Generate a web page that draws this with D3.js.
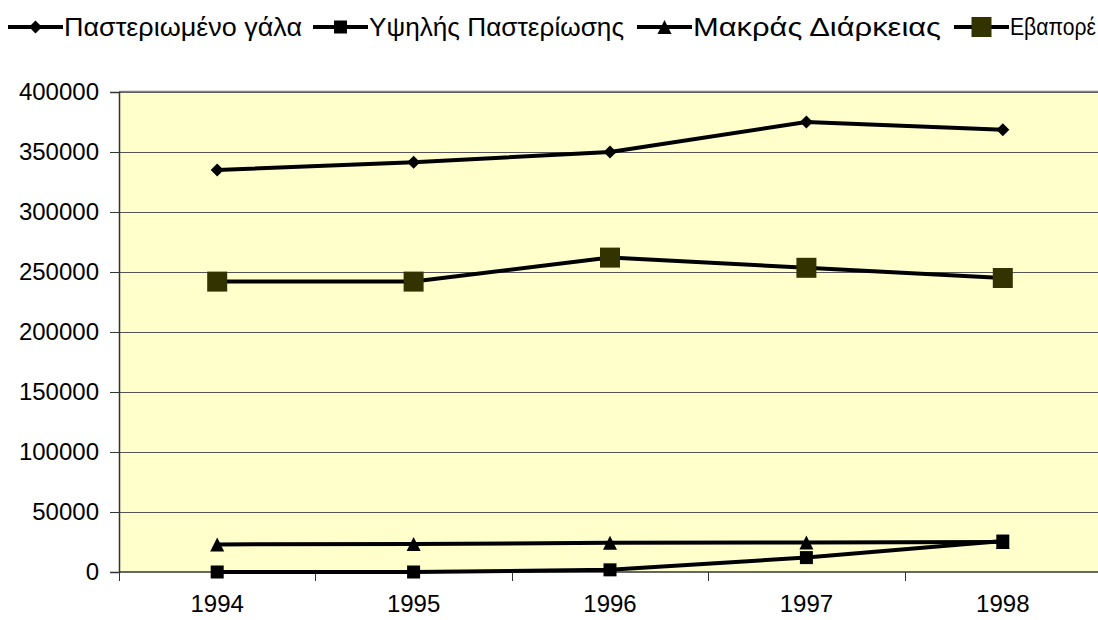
<!DOCTYPE html>
<html><head><meta charset="utf-8">
<script src="https://cdn.jsdelivr.net/npm/d3@7"></script>
<style>body{margin:0;background:#fff;}svg{display:block;font-family:"Liberation Sans",Arial,sans-serif;}</style>
</head><body>
<svg id="c" width="1098" height="620"></svg>
<script>
const categories = ["1994","1995","1996","1997","1998"];
const seriesNames = ["Παστεριωμένο γάλα","Υψηλής Παστερίωσης","Μακράς Διάρκειας","Εβαπορέ"];
const pasteurized = [335000,341500,350000,375000,368500];
const highPast = [0,0,1800,12000,25800];
const longLife = [23000,23300,24400,24600,25000];
const evapore = [242000,242000,262000,253500,245000];
const yTicks = [0,50000,100000,150000,200000,250000,300000,350000,400000];

const series = [
  {name:seriesNames[0], values:pasteurized, marker:"diamond", fill:"#000", size:6.5},
  {name:seriesNames[1], values:highPast, marker:"square", fill:"#000", size:6.5},
  {name:seriesNames[2], values:longLife, marker:"triangle", fill:"#000", size:7},
  {name:seriesNames[3], values:evapore, marker:"square", fill:"#333300", size:10}
];

const svg = d3.select("#c");
const L=119, R=1101, T=92, B=572;
const x = d3.scaleBand().domain(categories).range([L,R]);
const y = d3.scaleLinear().domain([0,400000]).range([B,T]);

svg.append("rect").attr("x",L).attr("y",T).attr("width",R-L).attr("height",B-T).attr("fill","#FFFFCC");
svg.append("g").selectAll("line").data(yTicks.filter(d=>d>0)).join("line")
  .attr("x1",L).attr("x2",R).attr("y1",d=>Math.round(y(d))+0.5).attr("y2",d=>Math.round(y(d))+0.5)
  .attr("stroke","#555").attr("stroke-width",1);
svg.append("line").attr("x1",L).attr("x2",R).attr("y1",T-0.5).attr("y2",T-0.5).attr("stroke","#808080").attr("stroke-width",1.5);

const yAxis = d3.axisLeft(y).tickValues(yTicks).tickSize(9).tickPadding(11).tickFormat(d3.format("d"));
const gy = svg.append("g").attr("transform",`translate(${L},0)`).call(yAxis);
gy.select(".domain").attr("stroke","#333").attr("stroke-width",1.5);
gy.selectAll(".tick line").attr("stroke","#333");
gy.selectAll("text").attr("font-size",24).attr("fill","#000").attr("font-family","Liberation Sans, Arial, sans-serif");

const gx = svg.append("g").attr("transform",`translate(0,${B})`);
gx.append("line").attr("x1",L).attr("x2",R).attr("y1",0).attr("y2",0).attr("stroke","#333").attr("stroke-width",1.5);
const bounds = categories.map(c=>x(c)).concat([x(categories[categories.length-1])+x.bandwidth()]);
gx.selectAll("line.t").data(bounds).join("line").attr("class","t")
  .attr("x1",d=>Math.round(d)+0.5).attr("x2",d=>Math.round(d)+0.5).attr("y1",0).attr("y2",9).attr("stroke","#333");
gx.selectAll("text").data(categories).join("text")
  .attr("x",d=>x(d)+x.bandwidth()/2).attr("y",40).attr("text-anchor","middle")
  .attr("font-size",24).attr("fill","#000").text(d=>d);

function markerPath(type,s){
  if(type==="diamond") return `M0,${-s}L${s},0L0,${s}L${-s},0Z`;
  if(type==="square") return `M${-s},${-s}H${s}V${s}H${-s}Z`;
  if(type==="triangle") return `M0,${-s}L${s},${s}H${-s}Z`;
}
const line = d3.line().x((d,i)=>x(categories[i])+x.bandwidth()/2).y(d=>y(d));
series.forEach(s=>{
  svg.append("path").attr("d",line(s.values)).attr("fill","none").attr("stroke","#000").attr("stroke-width",4).attr("stroke-linejoin","round");
});
series.forEach(s=>{
  svg.append("g").selectAll("path").data(s.values).join("path")
    .attr("transform",(d,i)=>`translate(${x(categories[i])+x.bandwidth()/2},${y(d)})`)
    .attr("d",markerPath(s.marker,s.size)).attr("fill",s.fill);
});

const legendX = [8,313,637,954];
const legendW = [238,255,248,86];
const legendFont = [26,26,26,23];
const lg = svg.append("g");
series.forEach((s,i)=>{
  const g = lg.append("g").attr("transform",`translate(${legendX[i]},27)`);
  g.append("line").attr("x1",0).attr("x2",55).attr("y1",0).attr("y2",0).attr("stroke","#000").attr("stroke-width",4);
  g.append("path").attr("transform","translate(27.5,0)").attr("d",markerPath(s.marker,s.size)).attr("fill",s.fill);
  g.append("text").attr("x",56).attr("y",legendFont[i]*0.35).attr("font-size",legendFont[i]).attr("fill","#000")
    .attr("textLength",legendW[i]).attr("lengthAdjust","spacingAndGlyphs").text(s.name);
});
</script>
</body></html>
